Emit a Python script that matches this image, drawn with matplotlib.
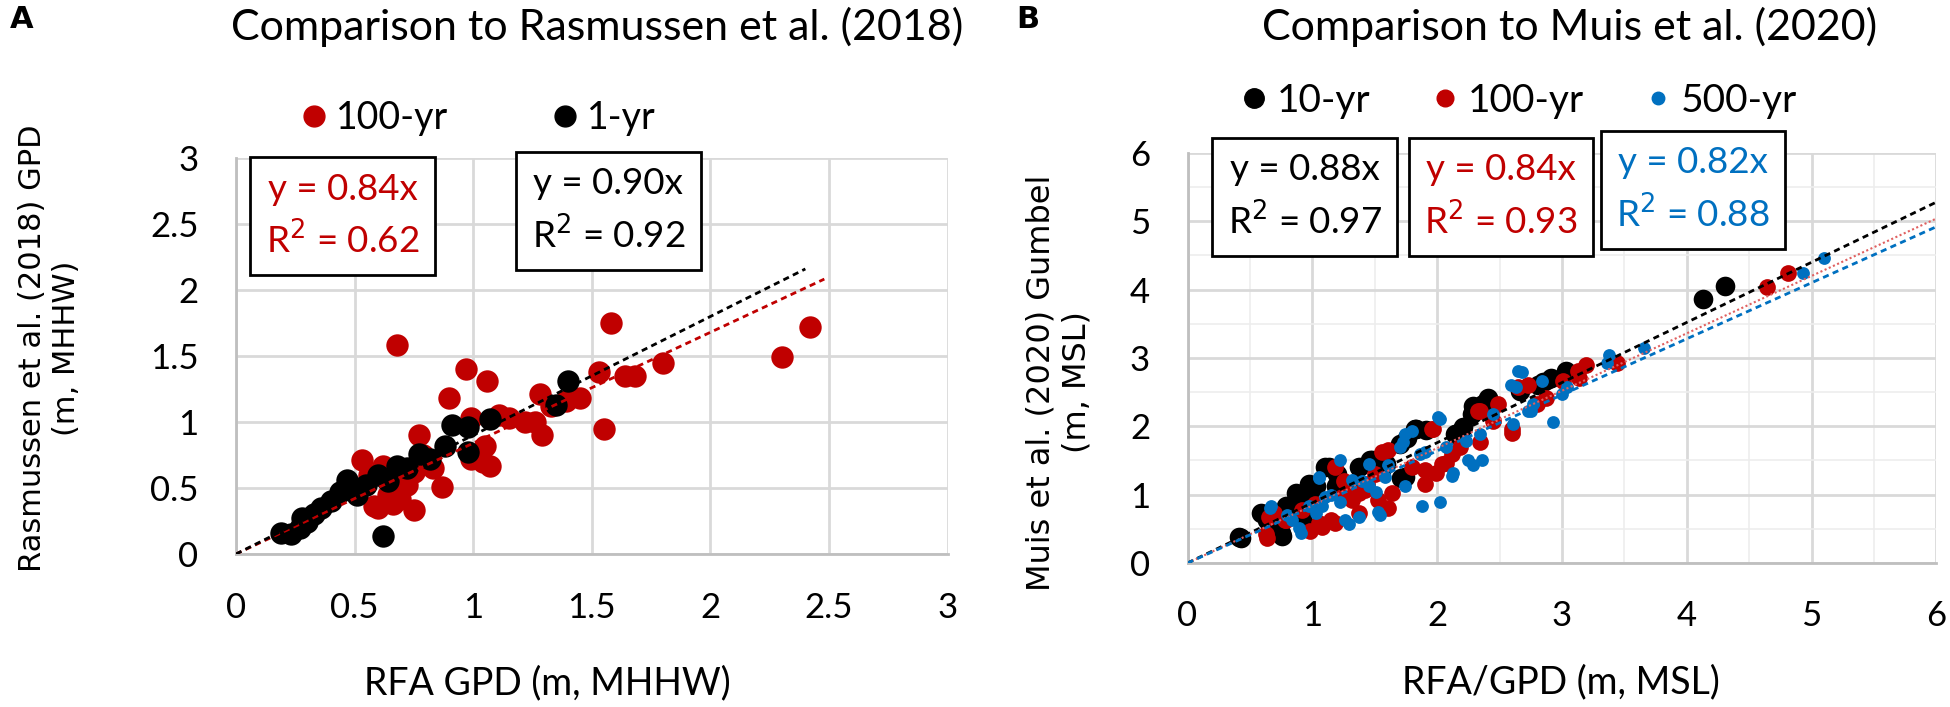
import matplotlib
matplotlib.use("Agg")
import numpy as np
import matplotlib.pyplot as plt
from matplotlib.lines import Line2D
from matplotlib.ticker import MultipleLocator

# ---- panel A data: Rasmussen et al. (2018) vs RFA GPD ----
a_100_x = [0.68, 0.97, 1.06, 0.90, 1.28, 1.29, 1.26, 1.15, 1.05, 1.04, 0.99, 1.07,
           0.99, 0.77, 0.53, 0.62, 0.75, 0.87, 0.75, 0.60, 0.64, 0.69, 0.72, 0.79,
           0.83, 1.58, 2.42, 2.30, 1.80, 1.53, 1.64, 1.68, 1.55, 1.45, 1.39, 0.70,
           0.66, 0.58, 0.56, 1.33, 1.22, 1.11]
a_100_y = [1.58, 1.40, 1.31, 1.18, 1.21, 0.90, 1.00, 1.03, 0.82, 0.70, 0.72, 0.67,
           1.03, 0.90, 0.71, 0.67, 0.62, 0.51, 0.33, 0.35, 0.45, 0.42, 0.52, 0.75,
           0.65, 1.75, 1.72, 1.49, 1.45, 1.38, 1.35, 1.35, 0.95, 1.18, 1.16, 0.55,
           0.38, 0.36, 0.60, 1.12, 1.00, 1.05]
a_1_x = [0.19, 0.23, 0.27, 0.28, 0.33, 0.36, 0.40, 0.44, 0.47, 0.51, 0.55, 0.60,
         0.64, 0.68, 0.72, 0.77, 0.82, 0.88, 0.91, 0.98, 1.07, 0.98, 0.62, 1.35,
         1.40, 0.30, 0.50]
a_1_y = [0.16, 0.15, 0.20, 0.27, 0.30, 0.35, 0.40, 0.47, 0.56, 0.45, 0.52, 0.60,
         0.55, 0.67, 0.65, 0.76, 0.72, 0.82, 0.98, 0.96, 1.02, 0.77, 0.14, 1.13,
         1.31, 0.24, 0.50]
a_slopes = {"100-yr": 0.84, "1-yr": 0.90}
a_r2 = {"100-yr": 0.62, "1-yr": 0.92}
a_line_end = {"100-yr": 2.48, "1-yr": 2.40}

# ---- panel B data: Muis et al. (2020) vs RFA/GPD ----
b_10_x = [0.41, 0.43, 0.59, 0.64, 0.75, 0.76, 0.79, 0.87, 0.88, 0.93, 0.97, 1.03,
          1.10, 1.13, 1.32, 1.37, 1.46, 1.48, 1.71, 1.74, 1.76, 1.82, 1.83, 2.14,
          2.17, 2.28, 2.29, 2.41, 2.81, 2.85, 3.03, 4.13, 4.31, 1.20, 1.55, 1.00,
          0.84, 0.97, 1.19, 1.59, 1.70, 1.91, 2.21, 2.37, 2.66, 2.91, 0.73]
b_10_y = [0.38, 0.36, 0.73, 0.63, 0.44, 0.39, 0.83, 1.02, 0.97, 0.57, 1.16, 1.12,
          1.41, 1.41, 1.15, 1.41, 1.51, 1.50, 1.25, 1.26, 1.83, 1.96, 1.96, 1.89,
          1.90, 2.18, 2.30, 2.42, 2.61, 2.65, 2.81, 3.86, 4.05, 1.30, 1.35, 0.80,
          0.78, 1.02, 1.12, 1.45, 1.74, 1.94, 1.99, 2.32, 2.52, 2.71, 0.58]
b_100_x = [0.63, 0.64, 0.65, 0.69, 0.79, 0.98, 1.02, 1.05, 1.08, 1.15, 1.18, 1.18,
           1.32, 1.32, 1.37, 1.42, 1.44, 1.56, 1.61, 1.61, 1.90, 1.90, 1.96, 1.97,
           2.04, 2.07, 2.12, 2.33, 2.34, 2.34, 2.49, 2.60, 2.60, 2.65, 2.73, 2.87,
           3.13, 3.14, 3.19, 3.44, 4.64, 4.81, 1.25, 1.50,
           0.78, 0.92, 1.24, 1.37, 1.53, 1.64, 1.80, 1.99, 2.18, 2.45, 2.80, 3.01]
b_100_y = [0.42, 0.37, 0.68, 0.73, 0.63, 0.47, 0.87, 0.58, 0.52, 0.63, 1.41, 0.58,
           0.92, 0.99, 0.73, 1.07, 1.15, 1.62, 1.65, 0.80, 1.16, 1.36, 1.96, 1.96,
           1.45, 1.46, 1.60, 2.23, 2.22, 1.77, 2.32, 1.96, 1.90, 2.57, 2.61, 2.42,
           2.81, 2.71, 2.90, 2.92, 4.04, 4.25, 1.20, 1.30,
           0.63, 0.78, 0.97, 1.02, 0.92, 1.02, 1.41, 1.31, 1.70, 2.08, 2.32, 2.66]
b_500_x = [0.66, 0.67, 0.89, 0.91, 1.03, 1.05, 1.05, 1.08, 1.22, 1.22, 1.26, 1.29,
           1.37, 1.45, 1.51, 1.53, 1.54, 1.58, 1.61, 1.73, 1.74, 1.74, 1.80, 1.88,
           1.90, 2.01, 2.02, 2.02, 2.12, 2.13, 2.25, 2.29, 2.34, 2.36, 2.59, 2.61,
           2.63, 2.65, 2.68, 2.73, 2.75, 2.84, 2.93, 3.00, 3.36, 3.38, 3.66, 4.93,
           5.10, 0.80, 1.15, 1.40,
           0.97, 1.10, 1.32, 1.45, 1.70, 1.86, 2.07, 2.23, 2.45, 2.77, 3.04, 0.84]
b_500_y = [0.81, 0.83, 0.51, 0.44, 0.73, 1.25, 1.26, 0.83, 1.50, 0.89, 0.63, 0.57,
           0.68, 1.12, 1.04, 0.75, 0.70, 1.26, 1.43, 1.77, 1.89, 1.12, 1.93, 0.83,
           1.62, 2.13, 2.11, 0.89, 1.28, 1.31, 1.50, 1.43, 1.89, 1.51, 2.61, 2.03,
           2.58, 2.81, 2.79, 2.23, 2.22, 2.67, 2.06, 2.47, 2.93, 3.05, 3.14, 4.25,
           4.46, 0.70, 1.00, 1.20,
           0.83, 0.97, 1.21, 1.45, 1.70, 1.60, 1.70, 1.79, 2.18, 2.32, 2.57, 0.63]
b_slopes = {"10-yr": 0.88, "100-yr": 0.84, "500-yr": 0.82}
b_r2 = {"10-yr": 0.97, "100-yr": 0.93, "500-yr": 0.88}

RED = "#C00000"
BLUE = "#0070C0"
BLACK = "#000000"
GRID = "#D9D9D9"
FONT = "Lato"

plt.rcParams["font.family"] = [FONT, "DejaVu Sans"]

fig = plt.figure(figsize=(19.5, 7.07), dpi=100)
axA = fig.add_axes([0.121, 0.2164, 0.365, 0.560])
axB = fig.add_axes([0.609, 0.2037, 0.384, 0.580])


def style_axes(ax, lim, major, minor=None):
    ax.set_xlim(0, lim)
    ax.set_ylim(0, lim)
    ax.xaxis.set_major_locator(MultipleLocator(major))
    ax.yaxis.set_major_locator(MultipleLocator(major))
    if minor:
        ax.xaxis.set_minor_locator(MultipleLocator(minor))
        ax.yaxis.set_minor_locator(MultipleLocator(minor))
        ax.grid(True, which="minor", color="#EDEDED", lw=1.2)
    ax.grid(True, which="major", color=GRID, lw=2)
    ax.set_axisbelow(True)
    for s in ["top", "right"]:
        ax.spines[s].set_visible(False)
    for s in ["left", "bottom"]:
        ax.spines[s].set_color("#BFBFBF")
        ax.spines[s].set_linewidth(2)
    ax.tick_params(which="both", length=0, labelsize=25, pad=27)
    ax.xaxis.set_major_formatter(plt.FuncFormatter(lambda v, p: f"{v:g}"))
    ax.yaxis.set_major_formatter(plt.FuncFormatter(lambda v, p: f"{v:g}"))


box = dict(boxstyle="square,pad=0.42", fc="white", ec="black", lw=2)

# ---- panel A ----
style_axes(axA, 3, 0.5)
axA.scatter(a_100_x, a_100_y, s=260, color=RED, lw=0, zorder=3)
axA.scatter(a_1_x, a_1_y, s=260, color=BLACK, lw=0, zorder=3)
for key, col in [("100-yr", RED), ("1-yr", BLACK)]:
    xx = np.array([0, a_line_end[key]])
    axA.plot(xx, a_slopes[key] * xx, ls=(0, (2.2, 1.6)), color=col, lw=2, zorder=4)

axA.text(0.45, 2.56, f"y = {a_slopes['100-yr']:.2f}x\nR$^2$ = {a_r2['100-yr']:.2f}",
         color=RED, fontsize=26.5, ha="center", va="center", linespacing=1.45, bbox=box)
axA.text(1.57, 2.60, f"y = {a_slopes['1-yr']:.2f}x\nR$^2$ = {a_r2['1-yr']:.2f}",
         color=BLACK, fontsize=26.5, ha="center", va="center", linespacing=1.45, bbox=box)

axA.set_xlabel("RFA GPD (m, MHHW)", fontsize=27, va="center")
axA.xaxis.set_label_coords(0.437, -0.326)
axA.set_ylabel("Rasmussen et al. (2018) GPD\n(m, MHHW)", fontsize=22,
               family="DejaVu Sans", linespacing=1.2, va="center")
axA.yaxis.set_label_coords(-0.262, 0.52)

legA = [Line2D([], [], ls="", marker="o", ms=15, color=RED, label="100-yr"),
        Line2D([], [], ls="", marker="o", ms=15, color=BLACK, label="1-yr")]
fig.legend(handles=legA, loc="center left", bbox_to_anchor=(0.134, 0.833),
           ncol=2, frameon=False, fontsize=27, handletextpad=0.1,
           columnspacing=2.6, handlelength=1.0)

# ---- panel B ----
style_axes(axB, 6, 1, 0.5)
axB.scatter(b_10_x, b_10_y, s=200, color=BLACK, lw=0, zorder=3)
axB.scatter(b_100_x, b_100_y, s=145, color=RED, lw=0, zorder=3)
axB.scatter(b_500_x, b_500_y, s=85, color=BLUE, lw=0, zorder=3)
xx = np.array([0, 6])
axB.plot(xx, b_slopes["10-yr"] * xx, ls=(0, (2.2, 1.6)), color=BLACK, lw=2, zorder=4)
axB.plot(xx, b_slopes["100-yr"] * xx, ls=(0, (1, 1.2)), color="#E06060", lw=1.5, zorder=4)
axB.plot(xx, b_slopes["500-yr"] * xx, ls=(0, (2.2, 1.6)), color=BLUE, lw=2, zorder=4)

for (key, col), cx, cy in zip([("10-yr", BLACK), ("100-yr", RED), ("500-yr", BLUE)],
                              [0.94, 2.51, 4.05], [5.36, 5.36, 5.46]):
    axB.text(cx, cy, f"y = {b_slopes[key]:.2f}x\nR$^2$ = {b_r2[key]:.2f}",
             color=col, fontsize=26.5, ha="center", va="center", linespacing=1.45,
             bbox=box, zorder=5)

axB.set_xlabel("RFA/GPD (m, MSL)", fontsize=27, va="center")
axB.xaxis.set_label_coords(0.498, -0.29)
axB.set_ylabel("Muis et al. (2020) Gumbel\n(m, MSL)", fontsize=23,
               family="DejaVu Sans", linespacing=1.2, va="center")
axB.yaxis.set_label_coords(-0.172, 0.44)

legB = [Line2D([], [], ls="", marker="o", ms=14, color=BLACK, label="10-yr"),
        Line2D([], [], ls="", marker="o", ms=12, color=RED, label="100-yr"),
        Line2D([], [], ls="", marker="o", ms=9, color=BLUE, label="500-yr")]
fig.legend(handles=legB, loc="center left", bbox_to_anchor=(0.615, 0.857),
           ncol=3, frameon=False, fontsize=28, handletextpad=0.1,
           columnspacing=1.4, handlelength=1.0)

# titles and panel letters
fig.text(0.306, 0.962, "Comparison to Rasmussen et al. (2018)", fontsize=31,
         ha="center", va="center")
fig.text(0.805, 0.962, "Comparison to Muis et al. (2020)", fontsize=31,
         ha="center", va="center")
fig.text(0.005, 0.972, "A", fontsize=22, fontweight="bold", family="DejaVu Sans",
         va="center")
fig.text(0.521, 0.972, "B", fontsize=22, fontweight="bold", family="DejaVu Sans",
         va="center")

fig.savefig("out.png", dpi=100)
